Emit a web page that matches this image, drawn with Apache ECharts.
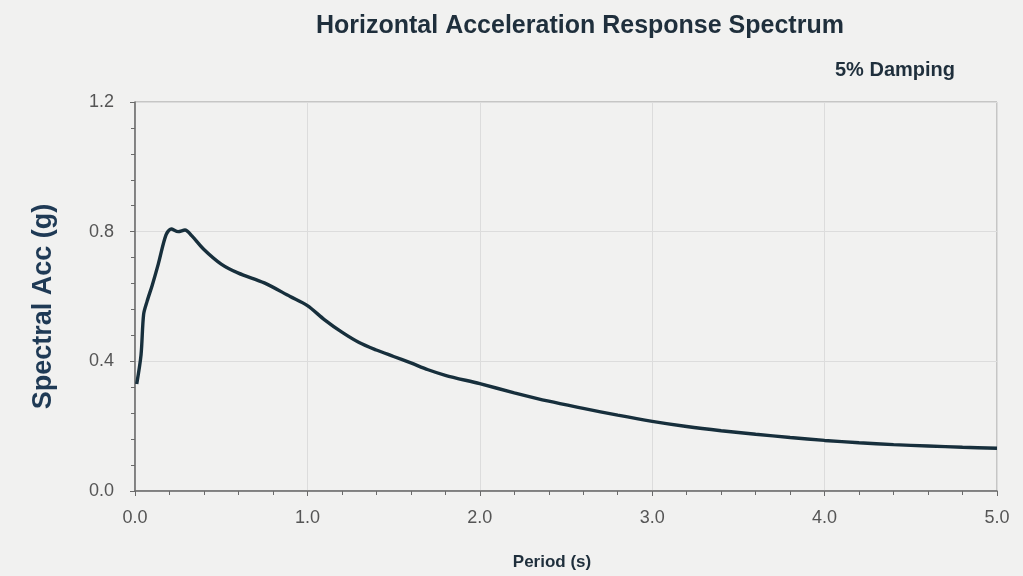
<!DOCTYPE html>
<html>
<head>
<meta charset="utf-8">
<script src="https://cdn.jsdelivr.net/npm/echarts@6/dist/echarts.min.js"></script>
<style>html,body{margin:0;padding:0;background:#f1f1f0;}#c{width:1023px;height:576px;}</style>
</head>
<body>
<div id="c"></div>
<script>
const periods = [0.01,0.035,0.05,0.07,0.1,0.135,0.18,0.21,0.25,0.29,0.33,0.4,0.5,0.6,0.75,0.9,1.0,1.1,1.2,1.3,1.4,1.5,1.6,1.7,1.8,2.0,2.2,2.4,2.6,2.8,3.0,3.2,3.4,3.6,3.8,4.0,4.2,4.4,4.6,4.8,5.0];
const spectralAcc = [0.33,0.42,0.545,0.585,0.635,0.70,0.79,0.808,0.80,0.805,0.787,0.745,0.70,0.672,0.642,0.60,0.572,0.528,0.49,0.458,0.435,0.415,0.395,0.374,0.357,0.331,0.303,0.277,0.255,0.234,0.215,0.199,0.186,0.175,0.165,0.156,0.149,0.143,0.139,0.135,0.132];
const titleText = 'Horizontal Acceleration Response Spectrum';
const subtitleText = '5% Damping';
const xName = 'Period (s)';
const yName = 'Spectral Acc (g)';

const chart = echarts.init(document.getElementById('c'));
const ff = '"Liberation Sans", Arial, sans-serif';
chart.setOption({
  backgroundColor: '#f1f1f0',
  animation: false,
  title: [
    {text: titleText, left: 311, top: 9, textStyle: {fontFamily: ff, fontSize: 25, fontWeight: 'bold', color: '#1f2f3c'}},
    {text: subtitleText, right: 63, top: 55, textStyle: {fontFamily: ff, fontSize: 20, fontWeight: 'bold', color: '#1f2f3c'}}
  ],
  grid: {left: 135, right: 26, top: 102, bottom: 84, show: true, borderColor: '#9a9a9a', borderWidth: 1},
  xAxis: {
    type: 'value', min: 0, max: 5, interval: 1,
    name: xName, nameLocation: 'middle', nameGap: 63,
    nameTextStyle: {fontFamily: ff, fontSize: 17, fontWeight: 'bold', color: '#1f2f3c', padding: [0, 28, 0, 0]},
    axisLine: {lineStyle: {color: '#6a6a6a', width: 1.5}},
    axisTick: {show: true, length: 5, lineStyle: {color: '#6a6a6a'}},
    minorTick: {show: true, splitNumber: 5, length: 4, lineStyle: {color: '#6a6a6a'}},
    axisLabel: {fontFamily: ff, fontSize: 18, color: '#555', margin: 18, formatter: v => v.toFixed(1)},
    splitLine: {show: true, lineStyle: {color: '#dcdcdc'}}
  },
  yAxis: {
    type: 'value', min: 0, max: 1.2, interval: 0.4,
    name: yName, nameLocation: 'middle', nameGap: 78, nameRotate: 90,
    nameTextStyle: {fontFamily: ff, fontSize: 27, fontWeight: 'bold', color: '#1f3a55', padding: [0, 20, 0, 0]},
    axisLine: {show: true, lineStyle: {color: '#6a6a6a', width: 1.5}},
    axisTick: {show: true, length: 5, lineStyle: {color: '#6a6a6a'}},
    minorTick: {show: true, splitNumber: 5, length: 4, lineStyle: {color: '#6a6a6a'}},
    axisLabel: {fontFamily: ff, fontSize: 18, color: '#555', margin: 21, formatter: v => v.toFixed(1)},
    splitLine: {show: true, lineStyle: {color: '#dcdcdc'}}
  },
  series: [{
    type: 'line',
    data: periods.map((p, i) => [p, spectralAcc[i]]),
    showSymbol: false,
    smooth: 0.3,
    lineStyle: {color: '#172f3c', width: 3.4}
  }]
});
</script>
</body>
</html>
